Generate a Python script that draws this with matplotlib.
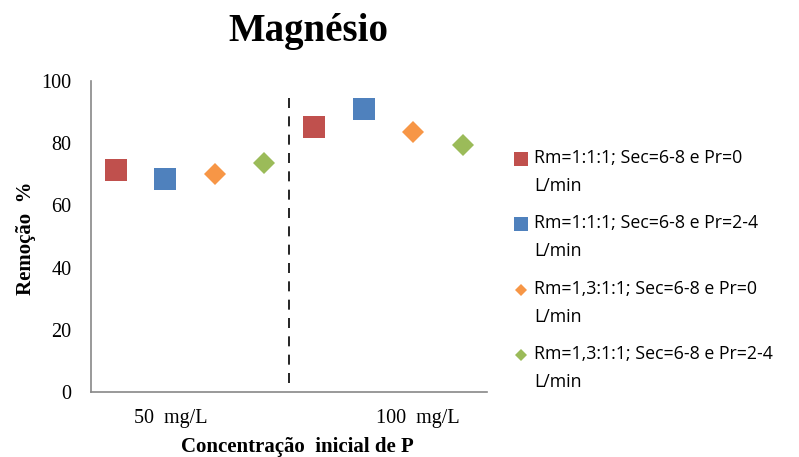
import matplotlib.pyplot as plt
from matplotlib.lines import Line2D
from matplotlib.legend_handler import HandlerLine2D

# data
series = ["Rm=1:1:1; Sec=6-8 e Pr=0\nL/min",
          "Rm=1:1:1; Sec=6-8 e Pr=2-4\nL/min",
          "Rm=1,3:1:1; Sec=6-8 e Pr=0\nL/min",
          "Rm=1,3:1:1; Sec=6-8 e Pr=2-4\nL/min"]
values_50 = [71.3, 68.5, 70.0, 73.6]
values_100 = [85.2, 91.0, 83.6, 79.4]
group_labels = ["50  mg/L", "100  mg/L"]
yticks = [0, 20, 40, 60, 80, 100]

colors = ["#C0504D", "#4F81BD", "#F79646", "#9BBB59"]
markers = ["s", "s", "D", "D"]
sizes = [15.5, 15.5, 11, 11]

serif = "Liberation Serif"
sans = "Open Sans"


class HandlerFirstLine(HandlerLine2D):
    # put the legend marker next to the first line of a two-line label
    def create_artists(self, legend, orig_handle, xdescent, ydescent, width, height,
                       fontsize, trans):
        return super().create_artists(legend, orig_handle, xdescent, ydescent - 20,
                                      width, height, fontsize, trans)


fig = plt.figure(figsize=(7.99, 4.57), dpi=100)
ax = fig.add_axes([0.114, 0.142, 0.496, 0.681])

for i in range(4):
    xs = [i + 0.5, i + 4.5]
    ys = [values_50[i], values_100[i]]
    ax.plot(xs, ys, linestyle="none", marker=markers[i], color=colors[i],
            markersize=sizes[i], markeredgewidth=0)

ax.axvline(4, ymin=0.03, ymax=0.97, color="black", linestyle=(0, (6, 5)), linewidth=1.2)

ax.set_xlim(0, 8)
ax.set_ylim(0, 100)
ax.set_yticks(yticks)
ax.set_yticklabels([str(v) for v in yticks], fontfamily=serif, fontsize=14.5)
ax.tick_params(axis="y", length=0, pad=14)
ax.set_xticks([])
for s in ["top", "right"]:
    ax.spines[s].set_visible(False)
for s in ["left", "bottom"]:
    ax.spines[s].set_color("#888888")
    ax.spines[s].set_linewidth(1.2)

# group labels under the axis
ax.text(1.6, -8.5, group_labels[0], ha="center", va="center", fontfamily=serif, fontsize=14.5,
        clip_on=False)
ax.text(6.6, -8.5, group_labels[1], ha="center", va="center", fontfamily=serif, fontsize=14.5,
        clip_on=False)

fig.text(0.372, 0.022, "Concentração  inicial de P", ha="center", va="center",
         fontfamily=serif, fontweight="bold", fontsize=15)
fig.text(0.033, 0.479, "Remoção  %", ha="center", va="center", rotation=90,
         fontfamily=serif, fontweight="bold", fontsize=15)
fig.text(0.386, 0.93, "Magnésio", ha="center", va="center",
         fontfamily=serif, fontweight="bold", fontsize=28)

handles = [Line2D([], [], linestyle="none", marker=markers[i], color=colors[i],
                  markersize=9.5 if markers[i] == "s" else 6.5, markeredgewidth=0)
           for i in range(4)]
leg = fig.legend(handles, series, loc="upper left", bbox_to_anchor=(0.637, 0.69),
                 frameon=False, prop={"family": sans, "size": 12.8}, handlelength=0.6,
                 handletextpad=0.4, labelspacing=1.08, borderaxespad=0,
                 handler_map={Line2D: HandlerFirstLine()})
for t in leg.get_texts():
    t.set_linespacing(1.73)

fig.savefig("out.png", dpi=100)
